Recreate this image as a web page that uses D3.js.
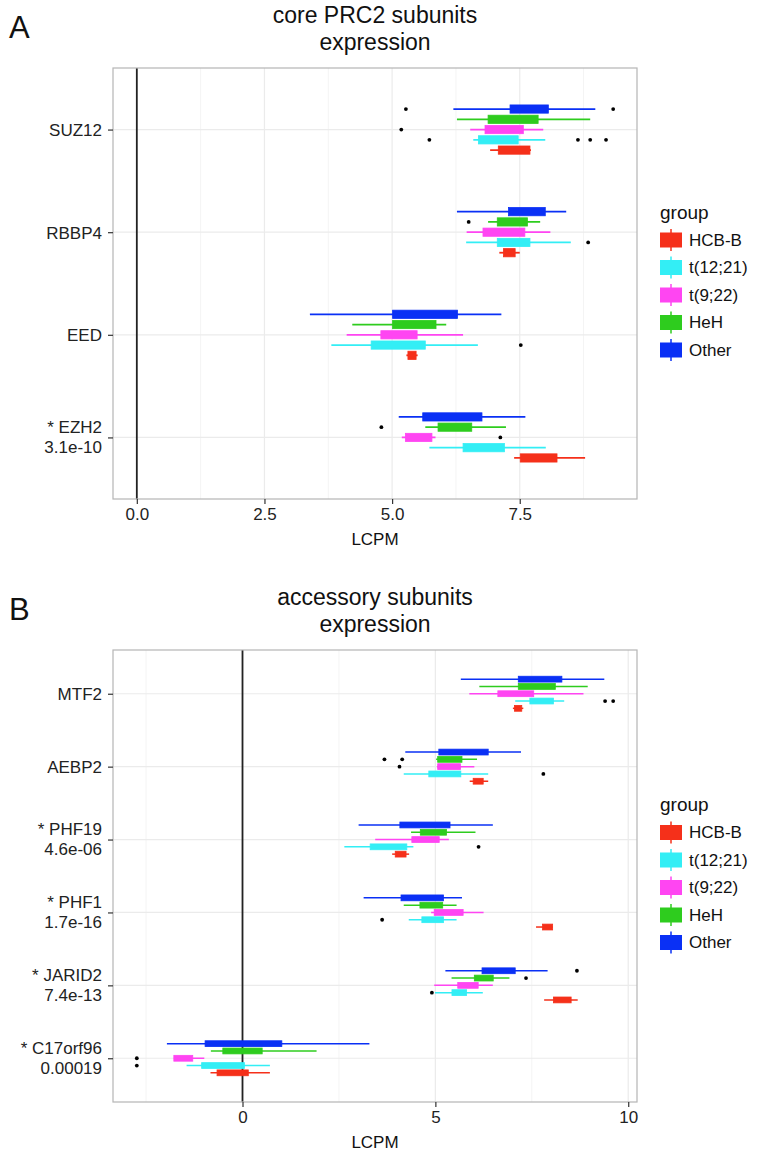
<!DOCTYPE html>
<html>
<head>
<meta charset="utf-8">
<script src="https://cdn.jsdelivr.net/npm/d3@7"></script>
<style>
  body { margin: 0; background: #fff; }
  svg { display: block; font-family: "Liberation Sans", Arial, Helvetica, sans-serif; }
</style>
</head>
<body>
<div id="chart"></div>
<script>
// groups, bottom to top inside each gene (legend order too)
var groups = ["HCB-B", "t(12;21)", "t(9;22)", "HeH", "Other"];
var groupColors = ["#f5301a", "#33eef5", "#ff45f2", "#2ecc1e", "#0a30f5"];

// ---- panel A: core PRC2 subunits ----
var coreGenes = ["SUZ12", "RBBP4", "EED", "EZH2"];
var coreLabels = [["SUZ12"], ["RBBP4"], ["EED"], ["* EZH2", "3.1e-10"]];
// each row: [whisker low, q1, q3, whisker high], one row per group
var suz12Stats = [[6.92, 7.08, 7.70, 7.72], [6.59, 6.69, 7.47, 8.00], [6.53, 6.82, 7.57, 7.96], [6.27, 6.88, 7.86, 8.88], [6.20, 7.31, 8.06, 8.98]];
var rbbp4Stats = [[7.10, 7.18, 7.41, 7.50], [6.45, 7.06, 7.70, 8.50], [6.46, 6.78, 7.60, 8.10], [6.88, 7.06, 7.65, 7.90], [6.27, 7.28, 8.00, 8.41]];
var eedStats   = [[5.28, 5.31, 5.47, 5.50], [3.81, 4.59, 5.65, 6.68], [4.11, 4.78, 5.49, 6.39], [4.22, 5.01, 5.86, 6.06], [3.39, 5.01, 6.28, 7.14]];
var ezh2Stats  = [[7.39, 7.51, 8.23, 8.78], [5.73, 6.39, 7.20, 8.01], [5.19, 5.26, 5.78, 5.85], [5.65, 5.90, 6.56, 7.23], [5.13, 5.60, 6.76, 7.61]];
var coreOutliers = [
    ["SUZ12", "Other", 5.27], ["SUZ12", "Other", 9.33], ["SUZ12", "t(9;22)", 5.18],
    ["SUZ12", "t(12;21)", 5.73], ["SUZ12", "t(12;21)", 8.64], ["SUZ12", "t(12;21)", 8.88], ["SUZ12", "t(12;21)", 9.19],
    ["RBBP4", "HeH", 6.50], ["RBBP4", "t(12;21)", 8.84],
    ["EED", "t(12;21)", 7.52],
    ["EZH2", "HeH", 4.79], ["EZH2", "t(9;22)", 7.12]
];
var coreTicks = [0, 2.5, 5, 7.5];

// ---- panel B: accessory subunits ----
var accGenes = ["MTF2", "AEBP2", "PHF19", "PHF1", "JARID2", "C17orf96"];
var accLabels = [["MTF2"], ["AEBP2"], ["* PHF19", "4.6e-06"], ["* PHF1", "1.7e-16"], ["* JARID2", "7.4e-13"], ["* C17orf96", "0.00019"]];
var mtf2Stats     = [[7.01, 7.05, 7.24, 7.28], [7.07, 7.45, 8.06, 8.34], [5.88, 6.62, 7.55, 8.84], [6.14, 7.15, 8.11, 8.95], [5.66, 7.15, 8.28, 9.38]];
var aebp2Stats    = [[5.89, 5.98, 6.24, 6.37], [4.18, 4.83, 5.66, 6.37], [5.04, 5.06, 5.65, 6.01], [5.02, 5.06, 5.69, 6.08], [4.22, 5.09, 6.37, 7.22]];
var phf19Stats    = [[3.88, 3.96, 4.24, 4.32], [2.64, 3.31, 4.26, 4.43], [3.44, 4.39, 5.10, 5.35], [4.37, 4.61, 5.29, 6.04], [3.01, 4.08, 5.38, 6.49]];
var phf1Stats     = [[7.61, 7.78, 8.04, 8.04], [4.31, 4.65, 5.21, 5.55], [4.89, 4.97, 5.72, 6.25], [4.18, 4.60, 5.19, 5.55], [3.14, 4.11, 5.21, 5.69]];
var jarid2Stats   = [[7.82, 8.06, 8.52, 8.69], [4.99, 5.43, 5.81, 6.23], [4.97, 5.58, 6.11, 6.49], [5.42, 6.01, 6.50, 6.92], [5.26, 6.21, 7.07, 7.91]];
var c17orf96Stats = [[-0.83, -0.66, 0.15, 0.71], [-1.45, -1.06, 0.05, 0.71], [-1.78, -1.78, -1.29, -0.99], [-0.82, -0.51, 0.51, 1.92], [-1.96, -0.97, 1.02, 3.29]];
var accOutliers = [
    ["MTF2", "t(12;21)", 9.40], ["MTF2", "t(12;21)", 9.61],
    ["AEBP2", "HeH", 3.68], ["AEBP2", "HeH", 4.14], ["AEBP2", "t(9;22)", 4.07], ["AEBP2", "t(12;21)", 7.80],
    ["PHF19", "t(12;21)", 6.12],
    ["PHF1", "t(12;21)", 3.62],
    ["JARID2", "Other", 8.67], ["JARID2", "HeH", 7.35], ["JARID2", "t(12;21)", 4.91],
    ["C17orf96", "t(9;22)", -2.74], ["C17orf96", "t(12;21)", -2.74]
];
var accTicks = [0, 5, 10];

var width = 758, height = 1155;
var plotLeft = 113, plotRight = 637;

var svg = d3.select("#chart").append("svg")
    .attr("width", width)
    .attr("height", height);

var color = d3.scaleOrdinal().domain(groups).range(groupColors);

function drawPanel(p) {
    var g = svg.append("g");

    // x range like ggplot: data (and the 0 line) plus 5% each side
    var vals = [0];
    p.stats.forEach(function(gs){ gs.forEach(function(s){ vals = vals.concat(s); }); });
    p.outliers.forEach(function(o){ vals.push(o[2]); });
    var lo = d3.min(vals), hi = d3.max(vals), pad = (hi - lo) * 0.05;

    var x = d3.scaleLinear().domain([lo - pad, hi + pad]).range([plotLeft, plotRight]);
    var y = d3.scalePoint().domain(p.genes).range([p.top, p.bottom]).padding(0.6);
    var step = y.step();
    // dodge: HCB-B lowest, Other on top
    var dodge = d3.scalePoint().domain(groups.slice().reverse()).range([-0.2 * step, 0.2 * step]);
    var boxH = 0.08 * step;

    // panel letter + title
    g.append("text").attr("x", 9).attr("y", p.top - 30).attr("font-size", 31).attr("fill", "#111").text(p.letter);
    g.append("text").attr("x", (plotLeft + plotRight) / 2).attr("y", p.top - 45)
        .attr("text-anchor", "middle").attr("font-size", 23).attr("fill", "#111").text(p.title[0]);
    g.append("text").attr("x", (plotLeft + plotRight) / 2).attr("y", p.top - 18)
        .attr("text-anchor", "middle").attr("font-size", 23).attr("fill", "#111").text(p.title[1]);

    // grid
    g.selectAll(".minor").data(p.minor).enter().append("line")
        .attr("x1", x).attr("x2", x).attr("y1", p.top).attr("y2", p.bottom)
        .attr("stroke", "#f4f4f4").attr("stroke-width", 1);
    g.selectAll(".majorx").data(p.ticks).enter().append("line")
        .attr("x1", x).attr("x2", x).attr("y1", p.top).attr("y2", p.bottom)
        .attr("stroke", "#ebebeb").attr("stroke-width", 1.2);
    g.selectAll(".majory").data(p.genes).enter().append("line")
        .attr("x1", plotLeft).attr("x2", plotRight).attr("y1", y).attr("y2", y)
        .attr("stroke", "#ebebeb").attr("stroke-width", 1.2);

    // black line at zero
    g.append("line")
        .attr("x1", x(0)).attr("x2", x(0)).attr("y1", p.top).attr("y2", p.bottom)
        .attr("stroke", "#222").attr("stroke-width", 1.8);

    // boxes
    var rows = [];
    p.genes.forEach(function(gene, gi){
        groups.forEach(function(grp, k){
            rows.push({gene: gene, group: grp, s: p.stats[gi][k]});
        });
    });
    var box = g.selectAll(".box").data(rows).enter().append("g");
    box.append("line")
        .attr("x1", function(d){ return x(d.s[0]); })
        .attr("x2", function(d){ return x(d.s[3]); })
        .attr("y1", function(d){ return y(d.gene) + dodge(d.group); })
        .attr("y2", function(d){ return y(d.gene) + dodge(d.group); })
        .attr("stroke", function(d){ return color(d.group); })
        .attr("stroke-width", p.whisker);
    box.append("rect")
        .attr("x", function(d){ return x(d.s[1]); })
        .attr("width", function(d){ return x(d.s[2]) - x(d.s[1]); })
        .attr("y", function(d){ return y(d.gene) + dodge(d.group) - boxH / 2; })
        .attr("height", boxH)
        .attr("fill", function(d){ return color(d.group); })
        .attr("stroke", function(d){ return color(d.group); })
        .attr("stroke-width", 0.8);

    // outliers
    g.selectAll(".out").data(p.outliers).enter().append("circle")
        .attr("cx", function(d){ return x(d[2]); })
        .attr("cy", function(d){ return y(d[0]) + dodge(d[1]); })
        .attr("r", 1.9)
        .attr("fill", "#000");

    // panel border
    g.append("rect")
        .attr("x", plotLeft).attr("y", p.top)
        .attr("width", plotRight - plotLeft).attr("height", p.bottom - p.top)
        .attr("fill", "none").attr("stroke", "#b5b5b5").attr("stroke-width", 1.2);

    // x axis
    var xAxis = g.append("g").attr("transform", "translate(0," + p.bottom + ")")
        .call(d3.axisBottom(x).tickValues(p.ticks).tickSize(5).tickPadding(4).tickFormat(p.fmt));
    xAxis.select(".domain").remove();
    xAxis.selectAll("line").attr("stroke", "#333").attr("stroke-width", 1.2);
    xAxis.selectAll("text").attr("font-size", 17).attr("fill", "#222")
        .attr("font-family", "Liberation Sans, Arial, sans-serif");

    g.append("text").attr("x", (plotLeft + plotRight) / 2).attr("y", p.bottom + 46)
        .attr("text-anchor", "middle").attr("font-size", 17).attr("fill", "#111").text("LCPM");

    // y axis (gene names, two lines when there is a p value)
    var yAxis = g.append("g").attr("transform", "translate(" + plotLeft + ",0)")
        .call(d3.axisLeft(y).tickSize(5).tickPadding(6));
    yAxis.select(".domain").remove();
    yAxis.selectAll("line").attr("stroke", "#333").attr("stroke-width", 1.2);
    yAxis.selectAll("text")
        .attr("font-size", 17).attr("fill", "#222")
        .attr("font-family", "Liberation Sans, Arial, sans-serif")
        .attr("dy", null)
        .text(null)
        .each(function(gene){
            var lines = p.labels[p.genes.indexOf(gene)];
            var t = d3.select(this);
            lines.forEach(function(l, i){
                t.append("tspan")
                    .attr("x", -11)
                    .attr("dy", i === 0 ? (lines.length === 1 ? "0.35em" : "-0.3em") : "1.2em")
                    .text(l);
            });
        });

    // legend
    var mid = (p.top + p.bottom) / 2;
    var leg = g.append("g").attr("transform", "translate(660," + mid + ")");
    leg.append("text").attr("x", 0).attr("y", -65).attr("font-size", 19).attr("fill", "#111").text("group");
    var item = leg.selectAll(".item").data(groups).enter().append("g")
        .attr("transform", function(d, i){ return "translate(0," + (-43.5 + i * 27.5) + ")"; });
    item.append("line")
        .attr("x1", 11).attr("x2", 11).attr("y1", -11).attr("y2", 11)
        .attr("stroke", function(d){ return color(d); }).attr("stroke-width", 1.5);
    item.append("rect")
        .attr("x", 0).attr("y", -7.5).attr("width", 22).attr("height", 15)
        .attr("fill", function(d){ return color(d); });
    item.append("text").attr("x", 29).attr("y", 0).attr("dy", "0.35em")
        .attr("font-size", 17).attr("fill", "#111").text(function(d){ return d; });
}

drawPanel({
    letter: "A", title: ["core PRC2 subunits", "expression"],
    top: 68, bottom: 499,
    genes: coreGenes, labels: coreLabels,
    stats: [suz12Stats, rbbp4Stats, eedStats, ezh2Stats],
    outliers: coreOutliers,
    ticks: coreTicks, minor: [1.25, 3.75, 6.25, 8.75],
    fmt: d3.format(".1f"), whisker: 1.8
});

drawPanel({
    letter: "B", title: ["accessory subunits", "expression"],
    top: 650, bottom: 1102,
    genes: accGenes, labels: accLabels,
    stats: [mtf2Stats, aebp2Stats, phf19Stats, phf1Stats, jarid2Stats, c17orf96Stats],
    outliers: accOutliers,
    ticks: accTicks, minor: [-2.5, 2.5, 7.5],
    fmt: d3.format("d"), whisker: 1.5
});
</script>
</body>
</html>
